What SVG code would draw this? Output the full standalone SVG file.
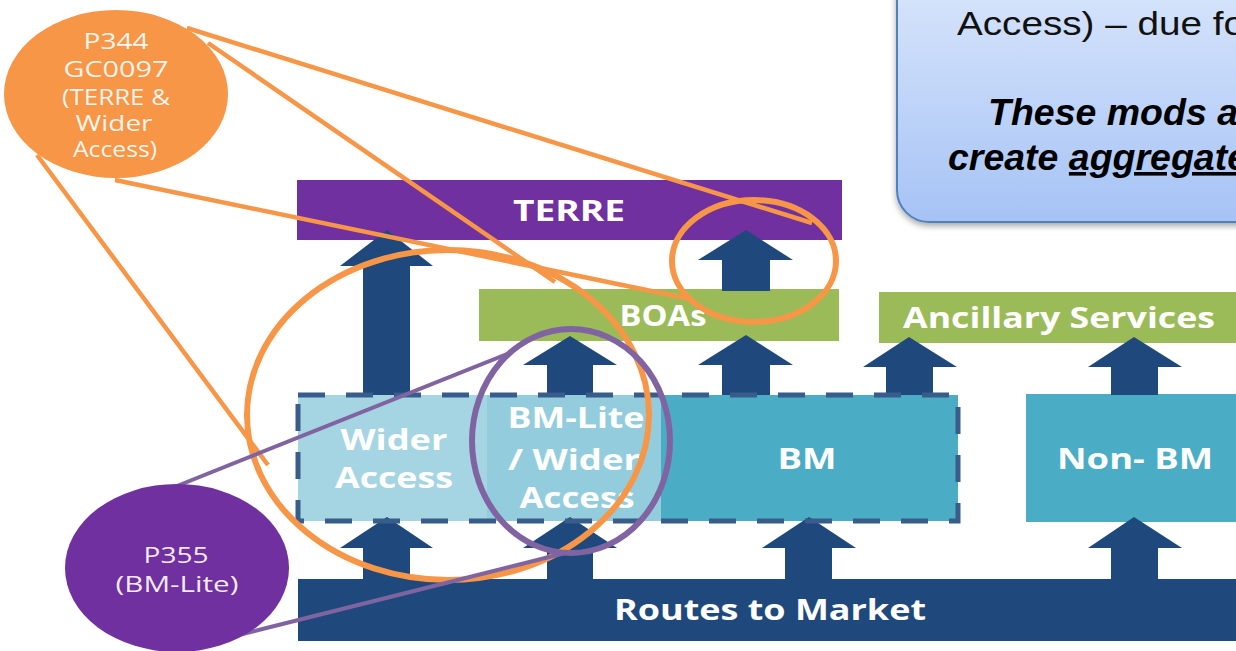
<svg xmlns="http://www.w3.org/2000/svg" width="1236" height="651" viewBox="0 0 1236 651">
<defs>
<linearGradient id="callGrad" x1="0" y1="0" x2="0" y2="1">
<stop offset="0" stop-color="#dce8fc"/>
<stop offset="1" stop-color="#a6c3f5"/>
</linearGradient>
<filter id="shadow" x="-10%" y="-10%" width="130%" height="140%">
<feDropShadow dx="0" dy="3" stdDeviation="3" flood-color="#000" flood-opacity="0.35"/>
</filter>
<style>
.lbl{font-family:"Open Sans","DejaVu Sans",sans-serif;font-weight:bold;font-size:28px;fill:#ffffff;text-anchor:middle}
.elbl{font-family:"Open Sans","DejaVu Sans",sans-serif;font-size:21px;fill:#ffffff;fill-opacity:0.92;text-anchor:middle}
.arrow{fill:#1f497d}
.purpleBar{fill:#7030a0}
.greenBar{fill:#9bbb59}
.dash{fill:none;stroke:#385d8a;stroke-width:5;stroke-dasharray:27 21}
.oline{stroke:#f79646;stroke-width:4.5;fill:none}
.pline{stroke:#8064a2;stroke-width:4;fill:none}
.oring{fill:none;stroke:#f79646;stroke-width:6}
.pring{fill:none;stroke:#8064a2;stroke-width:6}
.ctext{font-family:"Liberation Sans",Arial,sans-serif;font-size:34px;fill:#111111}
.cbold{font-family:"Liberation Sans",Arial,sans-serif;font-size:36px;font-weight:bold;font-style:italic;fill:#000000}
</style>
</defs>

<g id="callout">
<rect x="897" y="-40" width="420" height="262" rx="32" ry="32" fill="url(#callGrad)" stroke="#4f81bd" stroke-width="2" filter="url(#shadow)"/>
<text class="ctext" x="957" y="35" textLength="288" lengthAdjust="spacingAndGlyphs">Access) – due fo</text>
<text class="cbold" x="988" y="125" textLength="250" lengthAdjust="spacingAndGlyphs">These mods a</text>
<text class="cbold" x="948" y="170" textLength="300" lengthAdjust="spacingAndGlyphs">create <tspan text-decoration="underline">aggregate</tspan></text>
</g>

<g id="terre">
<rect class="purpleBar" x="297" y="180" width="545" height="60"/>
<text class="lbl" x="569" y="221" textLength="112" lengthAdjust="spacingAndGlyphs">TERRE</text>
</g>

<g id="boas">
<rect class="greenBar" x="479" y="289" width="360" height="52"/>
<text class="lbl" x="663" y="326" textLength="87" lengthAdjust="spacingAndGlyphs">BOAs</text>
</g>

<g id="ancillary">
<rect class="greenBar" x="879" y="292" width="360" height="51"/>
<text class="lbl" x="1059" y="328" textLength="312" lengthAdjust="spacingAndGlyphs">Ancillary Services</text>
</g>

<g id="wider-access">
<rect x="298" y="395" width="189" height="126" fill="#a5d5e2"/>
<text class="lbl" x="394" y="450" textLength="107" lengthAdjust="spacingAndGlyphs">Wider</text>
<text class="lbl" x="394" y="488" textLength="118" lengthAdjust="spacingAndGlyphs">Access</text>
</g>

<g id="bm-lite">
<rect x="487" y="395" width="174" height="126" fill="#93cddd"/>
<text class="lbl" x="576" y="428" textLength="137" lengthAdjust="spacingAndGlyphs">BM-Lite</text>
<text class="lbl" x="574" y="470" textLength="132" lengthAdjust="spacingAndGlyphs">/ Wider</text>
<text class="lbl" x="577" y="508" textLength="115" lengthAdjust="spacingAndGlyphs">Access</text>
</g>

<g id="bm">
<rect x="661" y="395" width="297" height="126" fill="#4bacc6"/>
<text class="lbl" x="807" y="469" textLength="59" lengthAdjust="spacingAndGlyphs">BM</text>
</g>

<g id="non-bm">
<rect x="1026" y="394" width="215" height="128" fill="#4bacc6"/>
<text class="lbl" x="1135" y="469" textLength="156" lengthAdjust="spacingAndGlyphs">Non- BM</text>
</g>

<g id="routes">
<rect x="298" y="579" width="945" height="62" fill="#1f497d"/>
<text class="lbl" x="770" y="620" textLength="312" lengthAdjust="spacingAndGlyphs">Routes to Market</text>
</g>

<g id="connectors">
<polygon class="arrow" points="387,230 433,266 410,266 410,395 363,395 363,266 340,266"/>
<polygon class="arrow" points="746,230 793,260 770,260 770,291 722,291 722,260 698,260"/>
<polygon class="arrow" points="570,336 617,365 593,365 593,395 547,395 547,365 523,365"/>
<polygon class="arrow" points="746,335 793,365 770,365 770,395 722,395 722,365 698,365"/>
<polygon class="arrow" points="909,337 957,367 933,367 933,395 886,395 886,367 863,367"/>
<polygon class="arrow" points="1134,337 1182,367 1158,367 1158,395 1111,395 1111,367 1088,367"/>
<polygon class="arrow" points="387,517 433,548 410,548 410,580 363,580 363,548 340,548"/>
<polygon class="arrow" points="570,517 617,548 593,548 593,580 547,580 547,548 523,548"/>
<polygon class="arrow" points="809,517 856,548 832,548 832,580 785,580 785,548 762,548"/>
<polygon class="arrow" points="1134,517 1182,548 1158,548 1158,580 1111,580 1111,548 1088,548"/>
</g>

<g id="aggregate-outline">
<rect class="dash" x="298" y="395" width="660" height="126"/>
</g>

<g id="highlights">
<ellipse class="oring" cx="448" cy="415" rx="201" ry="165"/>
<ellipse class="oring" cx="754" cy="261" rx="82" ry="61"/>
</g>

<g id="callout-lines">
<line class="oline" x1="187" y1="28" x2="812" y2="223"/>
<line class="oline" x1="208" y1="43" x2="555" y2="282"/>
<line class="oline" x1="115" y1="180" x2="690" y2="299"/>
<line class="oline" x1="37" y1="155" x2="268" y2="465"/>
<ellipse class="pring" cx="571" cy="441" rx="99" ry="112"/>
<line class="pline" x1="177" y1="486" x2="512" y2="352"/>
<line class="pline" x1="175" y1="651" x2="565" y2="553"/>
</g>

<g id="p344">
<ellipse cx="116" cy="94" rx="112" ry="84" fill="#f79646"/>
<text class="elbl" x="116" y="49" textLength="65" lengthAdjust="spacingAndGlyphs">P344</text>
<text class="elbl" x="116" y="77" textLength="105" lengthAdjust="spacingAndGlyphs">GC0097</text>
<text class="elbl" x="116" y="105" textLength="108" lengthAdjust="spacingAndGlyphs">(TERRE &amp;</text>
<text class="elbl" x="114" y="131" textLength="77" lengthAdjust="spacingAndGlyphs">Wider</text>
<text class="elbl" x="115" y="157" textLength="84" lengthAdjust="spacingAndGlyphs">Access)</text>
</g>

<g id="p355">
<ellipse cx="177" cy="568" rx="112" ry="84" fill="#7030a0"/>
<text class="elbl" x="176" y="563" textLength="65" lengthAdjust="spacingAndGlyphs">P355</text>
<text class="elbl" x="177" y="592" textLength="123" lengthAdjust="spacingAndGlyphs">(BM-Lite)</text>
</g>
</svg>
